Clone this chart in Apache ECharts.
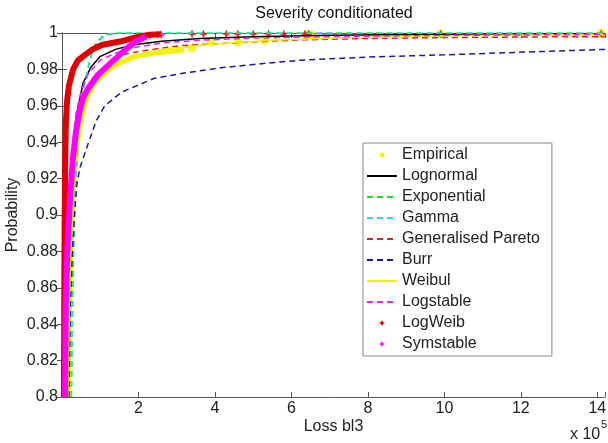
<!DOCTYPE html>
<html>
<head>
<meta charset="utf-8">
<script src="https://cdn.jsdelivr.net/npm/echarts@6/dist/echarts.min.js"></script>
<style>
  html, body { margin: 0; padding: 0; background: #fff; }
  #chart { width: 608px; height: 443px; }
</style>
</head>
<body>
<div id="chart"></div>
<script>
// loss values in units of 1e5, probabilities
const xTicks = [0, 2, 4, 6, 8, 10, 12, 14];
const yTicks = [0.8, 0.82, 0.84, 0.86, 0.88, 0.9, 0.92, 0.94, 0.96, 0.98, 1];

const empiricalDense = [[0.17,0.8],[0.19,0.84],[0.22,0.87],[0.26,0.9],[0.32,0.92],[0.40,0.94],[0.50,0.953],[0.62,0.963],[0.78,0.97],[0.95,0.975],[1.12,0.978],[1.35,0.982],[1.56,0.984],[1.9,0.987],[2.4,0.989],[3.2,0.9906]];
const empiricalSparse = [[3.4,0.9917],[3.9,0.995],[4.6,0.995],[5.3,0.996],[6.4,0.9989],[6.5,0.999],[9.9,0.9995],[14.1,0.9998]];
const lognormal = [[0.12,0.8],[0.15,0.86],[0.2,0.9],[0.28,0.935],[0.38,0.955],[0.55,0.9725],[0.75,0.981],[0.99,0.987],[1.4,0.991],[1.84,0.9934],[2.6,0.9955],[3.6,0.997],[5,0.998],[7,0.9988],[10,0.9993],[14.2,0.9996]];
const exponential = [[0.24,0.8],[0.28,0.86],[0.32,0.9],[0.36,0.92],[0.42,0.94],[0.5,0.96],[0.58,0.972],[0.67,0.98],[0.78,0.99],[0.9,0.995],[1.1,0.999],[1.4,1],[14.2,1]];
const gamma = [[0.25,0.8],[0.29,0.86],[0.33,0.9],[0.37,0.92],[0.43,0.94],[0.51,0.96],[0.59,0.972],[0.68,0.98],[0.8,0.99],[0.93,0.995],[1.15,0.999],[1.5,1],[14.2,1]];
const pareto = [[0.1,0.8],[0.15,0.87],[0.2,0.9],[0.35,0.94],[0.6,0.966],[0.9,0.977],[1.2,0.983],[1.56,0.988],[2.0,0.9898],[2.8,0.9923],[3.2,0.9932],[4,0.994],[5.4,0.9955],[6.2,0.9962],[8,0.997],[10,0.9975],[12,0.9978],[14.2,0.998]];
const burr = [[0.18,0.8],[0.22,0.85],[0.27,0.88],[0.3,0.89],[0.34,0.904],[0.39,0.917],[0.47,0.926],[0.68,0.939],[0.9,0.952],[1.12,0.96],[1.56,0.9675],[2.4,0.975],[3.2,0.978],[4.2,0.981],[5.4,0.9835],[6.2,0.985],[8.0,0.9868],[10,0.988],[11.4,0.989],[14.2,0.991]];
const weibul = [[0.15,0.8],[0.2,0.86],[0.25,0.9],[0.33,0.925],[0.45,0.945],[0.6,0.96],[0.8,0.97],[1.1,0.978],[1.5,0.984],[2,0.988],[2.8,0.9915],[4,0.994],[5.5,0.996],[7.5,0.9975],[10,0.9985],[14.2,0.9992]];
const logstable = [[0.1,0.8],[0.14,0.87],[0.18,0.9],[0.26,0.935],[0.36,0.955],[0.5,0.968],[0.7,0.978],[1.0,0.985],[1.4,0.989],[1.9,0.992],[2.6,0.9945],[3.6,0.996],[5,0.9972],[7,0.998],[10,0.9987],[14.2,0.9992]];
const logWeibDense = [[0.05,0.8],[0.06,0.86],[0.07,0.9],[0.085,0.93],[0.1,0.95],[0.13,0.962],[0.18,0.971],[0.29,0.98],[0.42,0.985],[0.6,0.988],[0.8,0.991],[1.04,0.9934],[1.3,0.9945],[1.56,0.9955],[2.0,0.998],[2.3,0.999],[2.6,0.9993]];
const logWeibSparse = [[3.4,0.9995],[3.7,0.9995],[4.3,0.9995],[4.6,0.9995],[5.0,0.9995],[5.4,0.9995],[5.8,0.9995],[6.35,0.9995],[6.45,0.9995],[9.9,0.9995],[14.1,0.9996]];
const symstableDense = [[0.08,0.8],[0.1,0.85],[0.14,0.88],[0.2,0.905],[0.28,0.93],[0.36,0.945],[0.45,0.956],[0.55,0.964],[0.68,0.9695],[0.94,0.977],[1.3,0.984],[1.71,0.9917],[1.9,0.995],[2.2,0.998]];
const symstableSparse = [[2.3,0.9985],[2.5,0.999],[2.6,0.999]];

const FONT = '"Liberation Sans", Arial, sans-serif';
const dotIcon = 'path://M0,0M30,14M12.5,7a2.5,2.5 0 1,0 5,0a2.5,2.5 0 1,0 -5,0Z';
const starIcon = 'path://M0,0M30,14M15,4L16,6L18,7L16,8L15,10L14,8L12,7L14,6Z';
const starSymbol = 'path://M0,-5L1.5,-1.5L5,0L1.5,1.5L0,5L-1.5,1.5L-5,0L-1.5,-1.5Z';

function curve(name, data, color, dashed, width) {
  return {
    name: name, type: 'line', data: data, symbol: 'none',
    lineStyle: { color: color, width: width || 1.5, type: dashed ? [6, 4] : 'solid' },
    itemStyle: { color: color }
  };
}
function thick(name, data, color, width) {
  return {
    name: name, type: 'line', data: data, symbol: 'none',
    lineStyle: { color: color, width: width }, itemStyle: { color: color }
  };
}
function dots(name, data, color, symbol, size) {
  return {
    name: name, type: 'scatter', data: data, symbol: symbol, symbolSize: size,
    itemStyle: { color: color }
  };
}
// legend entry for a plain line: hide the default centre symbol
function lineEntry(name) {
  return { name: name, itemStyle: { opacity: 0 } };
}

const axisBox = { show: true, lineStyle: { color: '#555', width: 1 } };
const tickIn = { show: true, inside: true, length: 5, lineStyle: { color: '#555' } };

const option = {
  animation: false,
  backgroundColor: '#fff',
  grid: { left: 62, right: 3, top: 33, bottom: 46, outerBoundsMode: 'none', containLabel: false },
  xAxis: [{
    type: 'value', min: xTicks[0], max: 14.2, interval: 2, position: 'bottom',
    axisLine: axisBox, axisTick: tickIn, splitLine: { show: false },
    axisLabel: {
      fontSize: 16, fontFamily: FONT, color: '#222', margin: 4,
      formatter: v => (xTicks.indexOf(v) > 0 ? String(v) : '')
    },
    name: 'Loss bl3', nameLocation: 'middle', nameGap: 22, nameMoveOverlap: false,
    nameTextStyle: { fontSize: 16, fontFamily: FONT, color: '#222' }
  }, {
    type: 'value', min: xTicks[0], max: 14.2, interval: 2, position: 'top',
    axisLine: axisBox, axisTick: tickIn, axisLabel: { show: false }, splitLine: { show: false }
  }],
  yAxis: [{
    type: 'value', min: yTicks[0], max: yTicks[yTicks.length - 1], interval: 0.02, position: 'left',
    axisLine: axisBox, axisTick: tickIn, splitLine: { show: false },
    axisLabel: { fontSize: 16, fontFamily: FONT, color: '#222', margin: 4 },
    name: 'Probability', nameLocation: 'middle', nameGap: 41, nameMoveOverlap: false,
    nameTextStyle: { fontSize: 16, fontFamily: FONT, color: '#222' }
  }, {
    type: 'value', min: yTicks[0], max: yTicks[yTicks.length - 1], interval: 0.02, position: 'right',
    axisLine: axisBox, axisTick: tickIn, axisLabel: { show: false }, splitLine: { show: false }
  }],
  legend: {
    orient: 'vertical', left: 363, top: 143,
    itemWidth: 30, itemHeight: 14, itemGap: 5, padding: [4, 12, 4, 3],
    backgroundColor: '#fff', borderColor: '#888', borderWidth: 1, borderRadius: 0,
    textStyle: { fontSize: 16, fontFamily: FONT, color: '#222' },
    data: [
      { name: 'Empirical', icon: dotIcon },
      lineEntry('Lognormal'), lineEntry('Exponential'), lineEntry('Gamma'),
      lineEntry('Generalised Pareto'), lineEntry('Burr'), lineEntry('Weibul'), lineEntry('Logstable'),
      { name: 'LogWeib', icon: starIcon },
      { name: 'Symstable', icon: starIcon }
    ]
  },
  graphic: [
    { type: 'text', x: 334, y: 6, style: { text: 'Severity conditionated', font: '16px ' + FONT, fill: '#111', align: 'center', verticalAlign: 'top' } },
    { type: 'text', x: 570, y: 435, style: { text: 'x 10', font: '16px ' + FONT, fill: '#222', align: 'left', verticalAlign: 'middle' } },
    { type: 'text', x: 601, y: 425, style: { text: '5', font: '11px ' + FONT, fill: '#222', align: 'left', verticalAlign: 'middle' } }
  ],
  series: [
    thick('Empirical', empiricalDense, '#f4f400', 5),
    dots('Empirical', empiricalSparse, '#f4f400', 'circle', 9),
    curve('Lognormal', lognormal, '#000000', false, 1.5),
    curve('Exponential', exponential, '#22dd22', true, 1.5),
    curve('Gamma', gamma, '#22dddd', true, 1.5),
    curve('Generalised Pareto', pareto, '#dd2222', true, 1.5),
    curve('Burr', burr, '#1a1aa0', true, 1.5),
    curve('Weibul', weibul, '#f0f000', false, 1.5),
    curve('Logstable', logstable, '#ee22ee', true, 1.5),
    thick('LogWeib', logWeibDense, '#e00000', 6),
    dots('LogWeib', logWeibSparse, '#e00000', starSymbol, 9),
    thick('Symstable', symstableDense, '#ff00ff', 6),
    dots('Symstable', symstableSparse, '#ff00ff', starSymbol, 9)
  ]
};

const chart = echarts.init(document.getElementById('chart'), null, { renderer: 'canvas' });
chart.setOption(option);
</script>
</body>
</html>
